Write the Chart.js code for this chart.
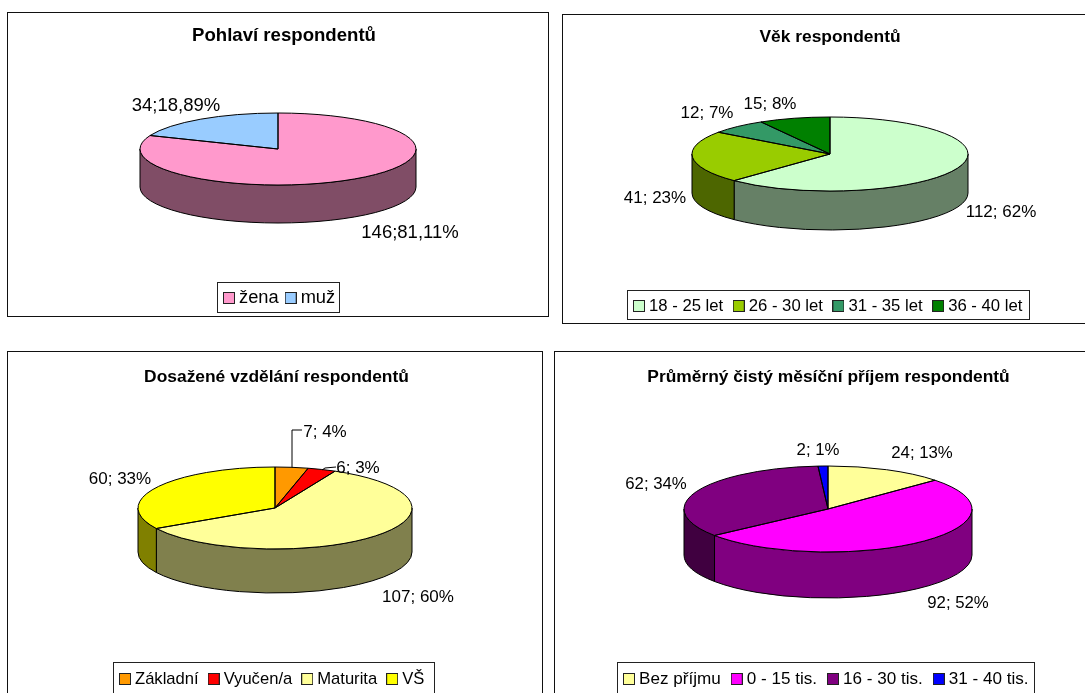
<!DOCTYPE html>
<html><head><meta charset="utf-8">
<style>
html,body{margin:0;padding:0;background:#fff;width:1085px;height:693px;overflow:hidden}
.panel{position:absolute;box-shadow:inset 0 0 0 1px #111}
canvas{position:absolute;left:0;top:0;filter:blur(0.3px)}
</style>
<script src="https://cdn.jsdelivr.net/npm/chart.js@4"></script>
</head><body>
<script>
const titles = ["Pohlaví respondentů","Věk respondentů","Dosažené vzdělání respondentů","Průměrný čistý měsíční příjem respondentů"];

const genderCategories = ["žena","muž"];
const genderValues = [146,34];
const genderLabels = ["146;81,11%","34;18,89%"];
const genderColors = ["#FF99CC","#99CCFF"];

const ageCategories = ["18 - 25 let","26 - 30 let","31 - 35 let","36 - 40 let"];
const ageValues = [112,41,12,15];
const ageLabels = ["112; 62%","41; 23%","12; 7%","15; 8%"];
const ageColors = ["#CCFFCC","#99CC00","#339966","#008000"];

const eduCategories = ["Základní","Vyučen/a","Maturita","VŠ"];
const eduValues = [7,6,107,60];
const eduLabels = ["7; 4%","6; 3%","107; 60%","60; 33%"];
const eduColors = ["#FF9900","#FF0000","#FFFF99","#FFFF00"];

const incomeCategories = ["Bez příjmu","0 - 15 tis.","16 - 30 tis.","31 - 40 tis."];
const incomeValues = [24,92,62,2];
const incomeLabels = ["24; 13%","92; 52%","62; 34%","2; 1%"];
const incomeColors = ["#FFFF99","#FF00FF","#800080","#0000FF"];

const FONT = "'Liberation Sans', Arial, sans-serif";
const SWATCH = 12;
const SWATCH_GAP = 4;

const layouts = [
 {box:[7,12,542,305], cy:149, rx:138, ry:36, depth:38, titleY:36, titleX:284, titleSize:18.6, labelSize:18.5,
  legendSize:18.3, legendY:298, legendLeft:217, legendRight:339, legendTop:282, legendH:30, legendGap:6,
  labelAt:[[410,233],[176,106]], leaders:[]},
 {box:[562,14,536,310], cy:154, rx:138, ry:37, depth:39, titleY:37, titleX:830, titleSize:17.4, labelSize:17,
  legendSize:16.7, legendY:306, legendLeft:627, legendRight:1029, legendTop:290, legendH:29, legendGap:9.5,
  labelAt:[[1001,212],[655,198],[707,113],[770,104]], leaders:[]},
 {box:[7,351,536,346], cy:508, rx:137, ry:41, depth:44, titleY:377, titleX:276.5, titleSize:17.4, labelSize:17,
  legendSize:16.6, legendY:679, legendLeft:113, legendRight:434, legendTop:662, legendH:32, legendGap:9,
  labelAt:[[325,432],[358,468],[418,597],[120,479]],
  leaders:[[[292,468],[292,430],[302,430]],[[322,470],[325,468],[336,467]]]},
 {box:[554,351,548,346], cy:509, rx:144, ry:43, depth:46, titleY:377, titleX:828.5, titleSize:17.4, labelSize:16.8,
  legendSize:17.1, legendY:679, legendLeft:617, legendRight:1034, legendTop:662, legendH:32, legendGap:10,
  labelAt:[[922,453],[958,603],[656,484],[818,450]], leaders:[]}
];

function half(hex){
  const n=parseInt(hex.slice(1),16);
  const c=[(n>>16)&255,(n>>8)&255,n&255].map(v=>Math.round(v/2));
  return `rgb(${c[0]},${c[1]},${c[2]})`;
}
function swatch(color){
  const c=document.createElement('canvas');c.width=SWATCH;c.height=SWATCH;
  const x=c.getContext('2d');
  x.fillStyle=color;x.fillRect(0.5,0.5,SWATCH-1,SWATCH-1);
  x.strokeStyle='#222';x.lineWidth=1;x.strokeRect(0.5,0.5,SWATCH-1,SWATCH-1);
  return c;
}

const pie3d = {
  id:'pie3d',
  beforeDatasetsDraw(chart,args,o){
    const ctx=chart.ctx;
    const arcs=chart.getDatasetMeta(0).data;
    ctx.save();
    ctx.lineWidth=1;ctx.strokeStyle='#000';
    arcs.forEach((a,i)=>{
      const s=Math.max(a.startAngle,0), e=Math.min(a.endAngle,Math.PI);
      if(e<=s) return;
      ctx.beginPath();
      ctx.ellipse(a.x,a.y,o.rx,o.ry,0,s,e);
      ctx.ellipse(a.x,a.y+o.depth,o.rx,o.ry,0,e,s,true);
      ctx.closePath();
      ctx.fillStyle=half(chart.data.datasets[0].backgroundColor[i]);
      ctx.fill();ctx.stroke();
    });
    ctx.restore();
  },
  beforeDatasetDraw(chart,args,o){
    const a=chart.getDatasetMeta(0).data[0], ctx=chart.ctx;
    ctx.save();
    ctx.translate(a.x,a.y);ctx.scale(1,o.ry/o.rx);ctx.translate(-a.x,-a.y);
  },
  afterDatasetDraw(chart){chart.ctx.restore();},
  afterDatasetsDraw(chart,args,o){
    const ctx=chart.ctx, arcs=chart.getDatasetMeta(0).data;
    ctx.save();
    ctx.lineWidth=1;ctx.strokeStyle='#000';
    arcs.forEach(a=>{
      ctx.beginPath();
      ctx.moveTo(a.x,a.y);
      ctx.ellipse(a.x,a.y,o.rx,o.ry,0,a.startAngle,a.endAngle);
      ctx.closePath();ctx.stroke();
    });
    (o.leaders||[]).forEach(pts=>{
      ctx.beginPath();
      pts.forEach((p,i)=>{const x=p[0]-o.ox,y=p[1]-o.oy;i?ctx.lineTo(x,y):ctx.moveTo(x,y);});
      ctx.stroke();
    });
    ctx.fillStyle='#000';
    ctx.font=`${o.labelSize}px ${FONT}`;
    ctx.textAlign='center';ctx.textBaseline='middle';
    o.labels.forEach((t,i)=>ctx.fillText(t,o.labelAt[i][0]-o.ox,o.labelAt[i][1]-o.oy));
    ctx.restore();
  },
  afterDraw(chart){
    const f=chart.$legendFrame;
    if(!f) return;
    const ctx=chart.ctx;
    ctx.save();
    ctx.strokeStyle='#222';ctx.lineWidth=1;
    ctx.strokeRect(Math.round(f.left)+.5,f.top+.5,Math.round(f.width),f.height);
    ctx.restore();
  }
};

function build(idx,cats,vals,labels,colors){
  const L=layouts[idx];
  const [ox,oy,w,h]=L.box;
  const div=document.createElement('div');
  div.className='panel';
  div.style.cssText=`left:${ox}px;top:${oy}px;width:${w}px;height:${h}px`;
  const cv=document.createElement('canvas');
  cv.width=w;cv.height=h;cv.style.width=w+'px';cv.style.height=h+'px';
  div.appendChild(cv);document.body.appendChild(div);
  const lh=L.titleSize*1.2;
  const sw=SWATCH+2*SWATCH_GAP-L.legendSize;     // reserved swatch width in the legend row
  const pad=L.legendGap+SWATCH/2-sw/2;
  const chart=new Chart(cv,{
    type:'pie',
    plugins:[pie3d],
    data:{labels:cats,datasets:[{data:vals,backgroundColor:colors,borderWidth:0,clip:false}]},
    options:{
      responsive:false,animation:false,
      radius:L.rx,
      layout:{padding:{top:0,bottom:4,left:0,right:0}},
      plugins:{
        tooltip:{enabled:false},
        title:{display:true,text:titles[idx],color:'#000',
          font:{family:FONT,size:L.titleSize,weight:'bold',lineHeight:1.2},
          padding:{top:L.titleY-oy-lh/2,bottom:0}},
        legend:{display:true,position:'bottom',
          labels:{color:'#000',font:{family:FONT,size:L.legendSize},
            usePointStyle:true,pointStyleWidth:sw,boxHeight:SWATCH,padding:pad,
            generateLabels(c){
              const base=Chart.overrides.pie.plugins.legend.labels.generateLabels(c);
              return base.map((it,i)=>Object.assign(it,{pointStyle:swatch(colors[i]),fontColor:'#000'}));
            }}},
        pie3d:{rx:L.rx,ry:L.ry,depth:L.depth,ox,oy,labels,labelAt:L.labelAt,leaders:L.leaders,labelSize:L.labelSize}
      }
    }
  });
  // fit the bottom legend and the pie centre to their places in the panel
  for(let k=0;k<3;k++){
    const hb=chart.legend.legendHitBoxes[0];
    chart.options.layout.padding.bottom += (hb.top+hb.height/2)-(L.legendY-oy);
    chart.update('none');
    const a=chart.chartArea;
    chart.options.plugins.title.padding.bottom += 2*(L.cy-oy)-(a.top+a.bottom);
    chart.update('none');
  }
  // horizontal placement of title and legend row inside the panel
  const first=chart.legend.legendHitBoxes[0];
  const frameL0=first.left+sw/2-SWATCH/2-6;
  const dx=(L.legendLeft-ox)-frameL0;
  chart.legend.left+=dx;chart.legend.right+=dx;
  const tdx=(L.titleX-ox)-(chart.titleBlock.left+chart.titleBlock.right)/2;
  chart.titleBlock.left+=tdx;chart.titleBlock.right+=tdx;
  chart.$legendFrame={left:L.legendLeft-ox,width:L.legendRight-L.legendLeft,top:L.legendTop-oy,height:L.legendH};
  chart.draw();
  return chart;
}
build(0,genderCategories,genderValues,genderLabels,genderColors);
build(1,ageCategories,ageValues,ageLabels,ageColors);
build(2,eduCategories,eduValues,eduLabels,eduColors);
build(3,incomeCategories,incomeValues,incomeLabels,incomeColors);
</script>
</body></html>
